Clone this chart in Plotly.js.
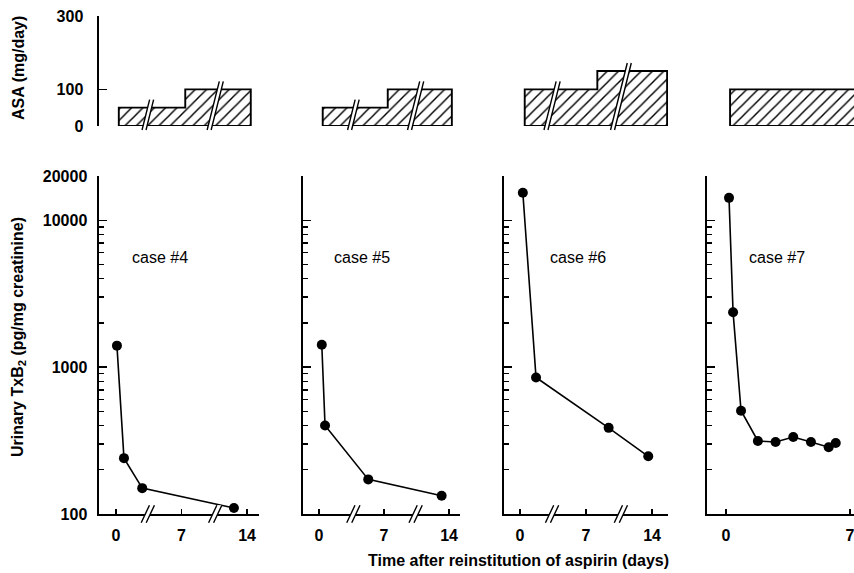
<!DOCTYPE html>
<html><head><meta charset="utf-8">
<script src="https://cdn.plot.ly/plotly-3.0.1.min.js"></script>
<style>html,body{margin:0;padding:0;background:#fff}#chart{width:854px;height:573px}</style>
</head><body><div id="chart"></div>
<script>
// ---------------- data ----------------
const caseLabels = ['case #4', 'case #5', 'case #6', 'case #7'];

const case4Days = [0.1, 0.85, 2.8, 12.6];
const case4TxB2 = [1400, 240, 150, 110];
const case5Days = [0.3, 0.65, 5.3, 13.2];
const case5TxB2 = [1420, 400, 172, 133];
const case6Days = [0.3, 1.7, 9.4, 13.6];
const case6TxB2 = [15400, 850, 386, 247];
const case7Days = [0.17, 0.4, 0.85, 1.8, 2.8, 3.8, 4.8, 5.8, 6.2];
const case7TxB2 = [14200, 2360, 505, 314, 309, 334, 309, 285, 304];

// ASA dosing: step boundaries (days) and dose (mg/day) between them
const case4DoseDays = [0.3, 7.4, 14.4];
const case4Dose = [50, 100];
const case5DoseDays = [0.4, 7.4, 14.3];
const case5Dose = [50, 100];
const case6DoseDays = [0.5, 8.2, 15.6];
const case6Dose = [100, 150];
const case7DoseDays = [0.23, 8.0];
const case7Dose = [100];

// axis breaks (days)
const case4Breaks = [3.4, 10.6];
const case5Breaks = [3.7, 10.4];
const case6Breaks = [3.4, 10.7];
const case7Breaks = [];

const xTickVals = [0, 7, 14];
const xTickText = ['0', '7', '14'];
const yMajorVals = [100, 1000, 10000, 20000];
const yMajorText = ['100', '1000', '10000', '20000'];
const yMinorVals = [200, 300, 400, 500, 600, 700, 800, 900,
                    2000, 3000, 4000, 5000, 6000, 7000, 8000, 9000];
const asaTickVals = [0, 100, 300];
const asaTickText = ['0', '100', '300'];

// ---------------- geometry ----------------
const W = 854, H = 573;
const FONT = 'Liberation Sans, Arial, Helvetica, sans-serif';
const panels = [
  {x0: 99,  x1: 259, zero: 116, ppd: 9.36},
  {x0: 303, x1: 460, zero: 319, ppd: 9.29},
  {x0: 504, x1: 668, zero: 520, ppd: 9.43},
  {x0: 707, x1: 854, zero: 726, ppd: 17.7}
];
const botPx = [176, 514];  // top, bottom pixel rows of lower panels
const topPx = [16, 126];   // top, bottom pixel rows of ASA panels
const botDom = [1 - botPx[1] / H, 1 - botPx[0] / H];
const topDom = [1 - topPx[1] / H, 1 - topPx[0] / H];
const asaRange = [0, 300];

const daysList = [case4Days, case5Days, case6Days, case7Days];
const txList = [case4TxB2, case5TxB2, case6TxB2, case7TxB2];
const doseDaysList = [case4DoseDays, case5DoseDays, case6DoseDays, case7DoseDays];
const doseList = [case4Dose, case5Dose, case6Dose, case7Dose];
const breaksList = [case4Breaks, case5Breaks, case6Breaks, case7Breaks];

const traces = [];
const layout = {
  width: W, height: H,
  margin: {l: 0, r: 0, t: 0, b: 0},
  paper_bgcolor: '#fff', plot_bgcolor: 'rgba(0,0,0,0)',
  showlegend: false,
  font: {family: FONT, color: '#000', size: 16},
  shapes: [], annotations: []
};

function stepPolygon(bounds, levels) {
  const xs = [bounds[0]], ys = [0];
  for (let i = 0; i < levels.length; i++) {
    xs.push(bounds[i], bounds[i + 1]);
    ys.push(levels[i], levels[i]);
  }
  xs.push(bounds[bounds.length - 1], bounds[0]);
  ys.push(0, 0);
  return {xs, ys};
}
function levelAt(bounds, levels, d) {
  for (let i = 0; i < levels.length; i++) if (d >= bounds[i] && d <= bounds[i + 1]) return levels[i];
  return 0;
}
function addBreak(xref, yref, xc, ppd, y0f, y1f, domPx, slope, gapPx) {
  const hPx = (y1f - y0f) * domPx;
  const s = slope * hPx / 2;
  const g = gapPx / 2;
  const xl1 = xc + (-g - s) / ppd, xu1 = xc + (-g + s) / ppd;
  const xl2 = xc + (g - s) / ppd, xu2 = xc + (g + s) / ppd;
  layout.shapes.push({type: 'path', xref, yref: yref + ' domain', layer: 'above',
    path: `M ${xl1},${y0f} L ${xu1},${y1f} L ${xu2},${y1f} L ${xl2},${y0f} Z`,
    fillcolor: '#fff', line: {width: 0}});
  layout.shapes.push({type: 'path', xref, yref: yref + ' domain', layer: 'above',
    path: `M ${xl1},${y0f} L ${xu1},${y1f} M ${xl2},${y0f} L ${xu2},${y1f}`,
    line: {color: '#000', width: 1.4}});
}

const tickFont = {family: FONT, size: 16, weight: 'bold', color: '#000'};

panels.forEach((p, i) => {
  const n = i + 1, m = i + 5;
  const dom = [p.x0 / W, p.x1 / W];
  const range = [(p.x0 - p.zero) / p.ppd, (p.x1 - p.zero) / p.ppd];
  const sfx = n === 1 ? '' : String(n);
  const bx = 'xaxis' + sfx, by = 'yaxis' + sfx;
  const bxr = 'x' + sfx, byr = 'y' + sfx;

  // lower panel axes
  layout[bx] = {domain: dom, range, anchor: byr, showgrid: false, zeroline: false,
    showline: true, linecolor: '#000', linewidth: 2,
    ticks: 'inside', ticklen: 5, tickwidth: 1.5, tickcolor: '#000',
    tickvals: xTickVals, ticktext: xTickText, tickfont: tickFont, ticklabelstandoff: 6,
    ticklabeloverflow: 'allow', fixedrange: true};
  layout[by] = {domain: botDom, type: 'log', range: [2, Math.log10(20000)], anchor: bxr,
    showgrid: false, zeroline: false, showline: true, linecolor: '#000', linewidth: 2.5,
    ticks: 'inside', ticklen: 8, tickwidth: 1.4, tickcolor: '#000',
    tickvals: yMajorVals, ticktext: yMajorText, tickfont: tickFont,
    showticklabels: n === 1, ticklabelstandoff: 6,
    minor: {tickmode: 'array', tickvals: yMinorVals, ticks: 'inside', ticklen: 5,
            tickwidth: 1.3, tickcolor: '#000', showgrid: false},
    fixedrange: true};

  // upper (ASA) axes
  layout['xaxis' + m] = {domain: dom, range, anchor: 'y' + m, visible: false, fixedrange: true};
  layout['yaxis' + m] = {domain: topDom, range: asaRange, anchor: 'x' + m,
    showgrid: false, zeroline: false, fixedrange: true,
    showline: n === 1, linecolor: '#000', linewidth: 2.5,
    ticks: n === 1 ? 'inside' : '', ticklen: 8, tickwidth: 1.4, tickcolor: '#000',
    tickvals: asaTickVals, ticktext: asaTickText, tickfont: tickFont,
    showticklabels: n === 1, ticklabelstandoff: 10};

  // TxB2 series
  traces.push({type: 'scatter', mode: 'lines+markers', x: daysList[i], y: txList[i],
    xaxis: bxr, yaxis: byr, cliponaxis: false,
    line: {color: '#000', width: 1.6}, marker: {color: '#000', size: 10}});

  // ASA dose steps (hatched)
  const poly = stepPolygon(doseDaysList[i], doseList[i]);
  traces.push({type: 'scatter', mode: 'lines', x: poly.xs, y: poly.ys,
    xaxis: 'x' + m, yaxis: 'y' + m, fill: 'toself', cliponaxis: false,
    fillcolor: '#fff',
    fillpattern: {shape: '/', fgcolor: '#000', bgcolor: '#fff', size: 8, solidity: 0.18},
    line: {color: '#000', width: 1.9}});

  // axis breaks
  breaksList[i].forEach(d => {
    addBreak(bxr, byr, d, p.ppd, -0.026, 0.026, botPx[1] - botPx[0], 0.47, 5);
    const lvl = levelAt(doseDaysList[i], doseList[i], d);
    const topH = topPx[1] - topPx[0];
    addBreak('x' + m, 'y' + m, d, p.ppd, -4 / topH,
      (lvl - asaRange[0]) / (asaRange[1] - asaRange[0]) + 8 / topH, topH, 0.25, 4);
  });
});

// case labels in data coordinates
const caseLabelDays = [4.7, 4.6, 6.2, 2.9];
const caseLabelTx = 5600;
caseLabels.forEach((t, i) => {
  const sfx = i === 0 ? '' : String(i + 1);
  layout.annotations.push({
    text: t, xref: 'x' + sfx, yref: 'y' + sfx,
    x: caseLabelDays[i], y: Math.log10(caseLabelTx), showarrow: false,
    xanchor: 'center', yanchor: 'middle',
    font: {family: FONT, size: 16, color: '#000'}
  });
});

// titles
layout.annotations.push({text: 'Urinary TxB<sub>2</sub> (pg/mg creatinine)', textangle: -90,
  xref: 'paper', yref: 'paper', x: 18 / W, y: 1 - 337 / H, showarrow: false,
  xanchor: 'center', yanchor: 'middle',
  font: {family: FONT, size: 16, weight: 'bold', color: '#000'}});
layout.annotations.push({text: 'ASA (mg/day)', textangle: -90,
  xref: 'paper', yref: 'paper', x: 19 / W, y: 1 - 68 / H, showarrow: false,
  xanchor: 'center', yanchor: 'middle',
  font: {family: FONT, size: 16, weight: 'bold', color: '#000'}});
layout.annotations.push({text: 'Time after reinstitution of aspirin (days)',
  xref: 'paper', yref: 'paper', x: 518 / W, y: 1 - 560 / H, showarrow: false,
  xanchor: 'center', yanchor: 'middle',
  font: {family: FONT, size: 16, weight: 'bold', color: '#000'}});

Plotly.newPlot('chart', traces, layout, {staticPlot: true, displayModeBar: false});
</script>
</body></html>
